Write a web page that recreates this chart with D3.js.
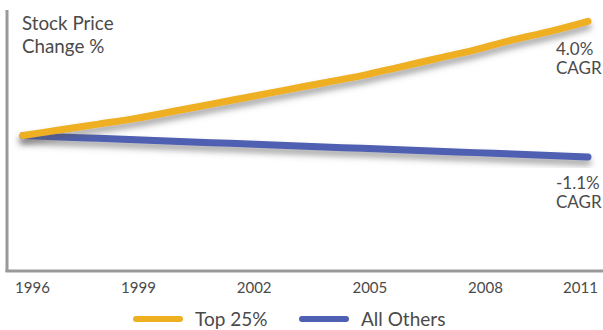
<!DOCTYPE html>
<html>
<head>
<meta charset="utf-8">
<script src="https://cdn.jsdelivr.net/npm/d3@7"></script>
<style>
  body { margin: 0; background: #fff; }
  text { font-family: Lato, "Open Sans", sans-serif; fill: #4a4a4a; }
</style>
</head>
<body>
<div class="chart-container"></div>
<script>
var w = 603;
var h = 330;

// price index, 1996 = 100
var years = [1996, 1997, 1998, 1999, 2000, 2001, 2002, 2003, 2004, 2005, 2006, 2007, 2008, 2009, 2010, 2011];
var top25 = [100, 104, 108, 112, 117, 122, 127, 132, 137, 142, 148, 154, 160, 167, 173, 180];
var allOthers = [100, 99, 98, 97, 96, 95, 94, 93, 92, 91, 90, 89, 88, 87, 86, 85];
var tickYears = [1996, 1999, 2002, 2005, 2008, 2011];
var seriesNames = ["Top 25%", "All Others"];
var cagrLabels = ["4.0%", "-1.1%"];
var colors = ["#EEB020", "#4F5FB1"];

var xScale = d3.scaleLinear().domain([1996, 2011]).range([23, 588]);
var yScale = d3.scaleLinear().domain([5, 188]).range([271, 10]);
// tick labels are not spaced quite evenly in the original
var xLabel = d3.scaleLinear().domain([1996, 1999, 2008, 2011]).range([32, 138, 485, 580]);

var svg = d3.select(".chart-container")
            .append("svg")
            .attr("width", w)
            .attr("height", h);

var defs = svg.append("defs");
var f = defs.append("filter").attr("id", "shadow")
            .attr("x", "-5%").attr("y", "-50%").attr("width", "110%").attr("height", "200%");
f.append("feDropShadow")
  .attr("dx", 0).attr("dy", 5)
  .attr("stdDeviation", 3)
  .attr("flood-color", "#555")
  .attr("flood-opacity", 0.55);

//axes lines
svg.append("line")
   .attr("x1", 7).attr("x2", 7).attr("y1", 10).attr("y2", 272)
   .attr("stroke", "#999").attr("stroke-width", 3);
svg.append("line")
   .attr("x1", 5.5).attr("x2", w).attr("y1", 271).attr("y2", 271)
   .attr("stroke", "#999").attr("stroke-width", 3);

var xAxis = d3.axisBottom(xLabel)
              .tickValues(tickYears)
              .tickFormat(d3.format("d"))
              .tickSize(0)
              .tickPadding(0);

var gx = svg.append("g")
            .attr("transform", "translate(0,280)")
            .call(xAxis);
gx.select(".domain").remove();
gx.selectAll("text")
  .attr("dy", "0.85em")
  .style("font-size", "15px")
  .style("font-family", "Lato, sans-serif")
  .attr("fill", "#4a4a4a");

var line = d3.line()
             .x(function(d, i) { return xScale(years[i]); })
             .y(function(d) { return yScale(d); })
             .curve(d3.curveMonotoneX);

var series = [allOthers, top25];
var seriesColors = [colors[1], colors[0]];

svg.selectAll("path.series")
   .data(series)
   .enter()
   .append("path")
   .attr("class", "series")
   .attr("d", line)
   .attr("fill", "none")
   .attr("stroke", function(d, i) { return seriesColors[i]; })
   .attr("stroke-width", 7)
   .attr("stroke-linecap", "round")
   .attr("filter", "url(#shadow)");

// title
var title = svg.append("text")
               .attr("x", 22)
               .attr("y", 30)
               .style("font-size", "18.8px");
title.append("tspan").attr("x", 22).text("Stock Price");
title.append("tspan").attr("x", 22).attr("dy", 23).text("Change %");

// CAGR labels at line ends
var ends = [top25[top25.length - 1], allOthers[allOthers.length - 1]];
var offsets = [34, 32];
ends.forEach(function(v, i) {
  var t = svg.append("text")
             .attr("x", 556)
             .attr("y", yScale(v) + offsets[i])
             .style("font-size", "17px");
  t.append("tspan").attr("x", 556).text(cagrLabels[i]);
  t.append("tspan").attr("x", 556).attr("dy", 19).text("CAGR");
});

//legend
var legendX = [134, 300];
var legend = svg.selectAll("g.legend")
                .data(seriesNames)
                .enter()
                .append("g")
                .attr("class", "legend")
                .attr("transform", function(d, i) { return "translate(" + legendX[i] + ",319)"; });

legend.append("line")
      .attr("x1", 2).attr("x2", 46)
      .attr("y1", 0).attr("y2", 0)
      .attr("stroke", function(d, i) { return colors[i]; })
      .attr("stroke-width", 6)
      .attr("stroke-linecap", "round");

legend.append("text")
      .attr("x", 61)
      .attr("y", 7)
      .style("font-size", "19px")
      .text(function(d) { return d; });
</script>
</body>
</html>
